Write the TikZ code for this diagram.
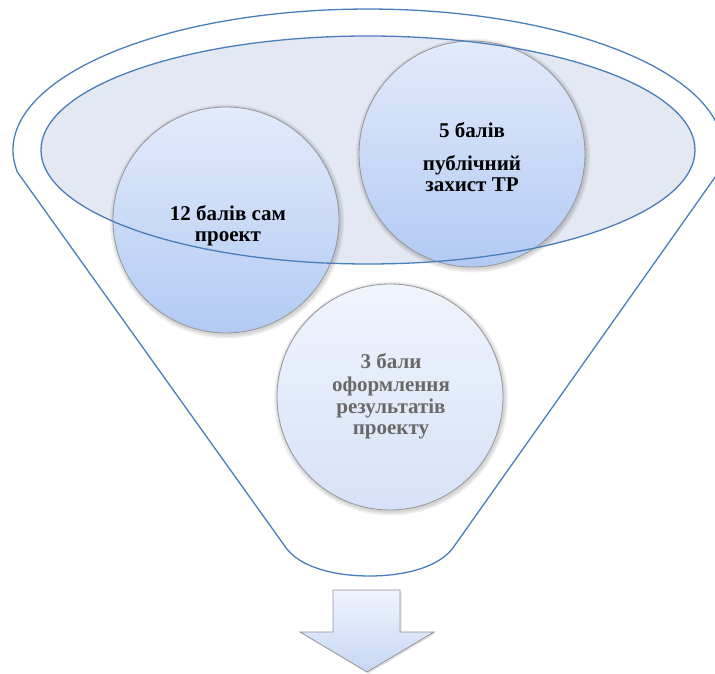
\documentclass[tikz,border=0pt]{standalone}
\usepackage{fontspec}
\setmainfont{Liberation Serif}
\definecolor{fblue}{RGB}{74,126,187}
\definecolor{ellfill}{RGB}{228,232,242}
\definecolor{balltop}{RGB}{226,235,251}
\definecolor{ballbot}{RGB}{178,202,243}
\definecolor{lighttop}{RGB}{240,244,252}
\definecolor{lightbot}{RGB}{214,226,248}
\definecolor{ballline}{RGB}{150,150,150}
\definecolor{greytext}{RGB}{105,105,105}
\definecolor{arrtop}{RGB}{240,244,253}
\definecolor{arrbot}{RGB}{198,215,245}
\tikzset{
  funnel/.style={draw=fblue, line width=1.3pt, line join=round},
  ball/.style={circle, minimum size=226pt, inner sep=0pt, draw=ballline, line width=0.8pt, top color=balltop, bottom color=ballbot},
  lightball/.style={ball, top color=lighttop, bottom color=lightbot},
  txt/.style={font=\bfseries\fontsize{21}{23}\selectfont, anchor=base, inner sep=0pt},
  greytxt/.style={txt, text=greytext},
  softshadow/.style={fill=black, opacity=0.06},
}
\begin{document}
\begin{tikzpicture}[x=1pt,y=1pt]
\useasboundingbox (0,0) rectangle (715,674);
\clip (0,0) rectangle (715,674);
% outer funnel outline
\draw[funnel] (17.4,501.9) arc[start angle=189, end angle=-9, x radius=355, y radius=141]
  -- (455,129) .. controls (440,105) and (400,98) .. (369.5,98)
  .. controls (339,98) and (299,105) .. (284,129) -- cycle;
% inner ellipse fill
\fill[ellfill] (368,524) ellipse [x radius=327, y radius=114];
% shadows
\foreach \px/\py in {226/454,472/520,390/277}{
  \foreach \r in {114,115.5,117}{
    \fill[softshadow] (\px+1,\py-1.5) circle (\r);
  }
}
% balls
\node[ball] (c12) at (226,454) {};
\node[ball] (c5) at (472,520) {};
\node[lightball] (c3) at (390,277) {};
% inner ellipse outline
\draw[funnel] (368,524) ellipse [x radius=327, y radius=114];
% texts
\node[txt] (t5a) at (472,536) {5 балів};
\node[txt] (t5b) at (472,503) {публічний};
\node[txt] (t5c) at (472,482) {захист ТР};
\node[txt] (t12a) at (228,453) {12 балів сам};
\node[txt] (t12b) at (228,432) {проект};
\node[greytxt] (t3a) at (391,305) {3 бали};
\node[greytxt] (t3b) at (391,282) {оформлення};
\node[greytxt] (t3c) at (391,260) {результатів};
\node[greytxt] (t3d) at (391,239) {проекту};
% arrow
\fill[black, opacity=0.12] (334.5,82.5) -- ++(67,0) -- ++(0,-42) -- ++(34,0) -- ++(-67,-40) -- ++(-67,40) -- ++(33,0) -- cycle;
\path[draw=ballline, line width=0.8pt, top color=arrtop, bottom color=arrbot, line join=miter]
  (333,84) -- (400,84) -- (400,42) -- (434,42) -- (367,2) -- (300,42) -- (333,42) -- cycle;
\end{tikzpicture}
\end{document}
